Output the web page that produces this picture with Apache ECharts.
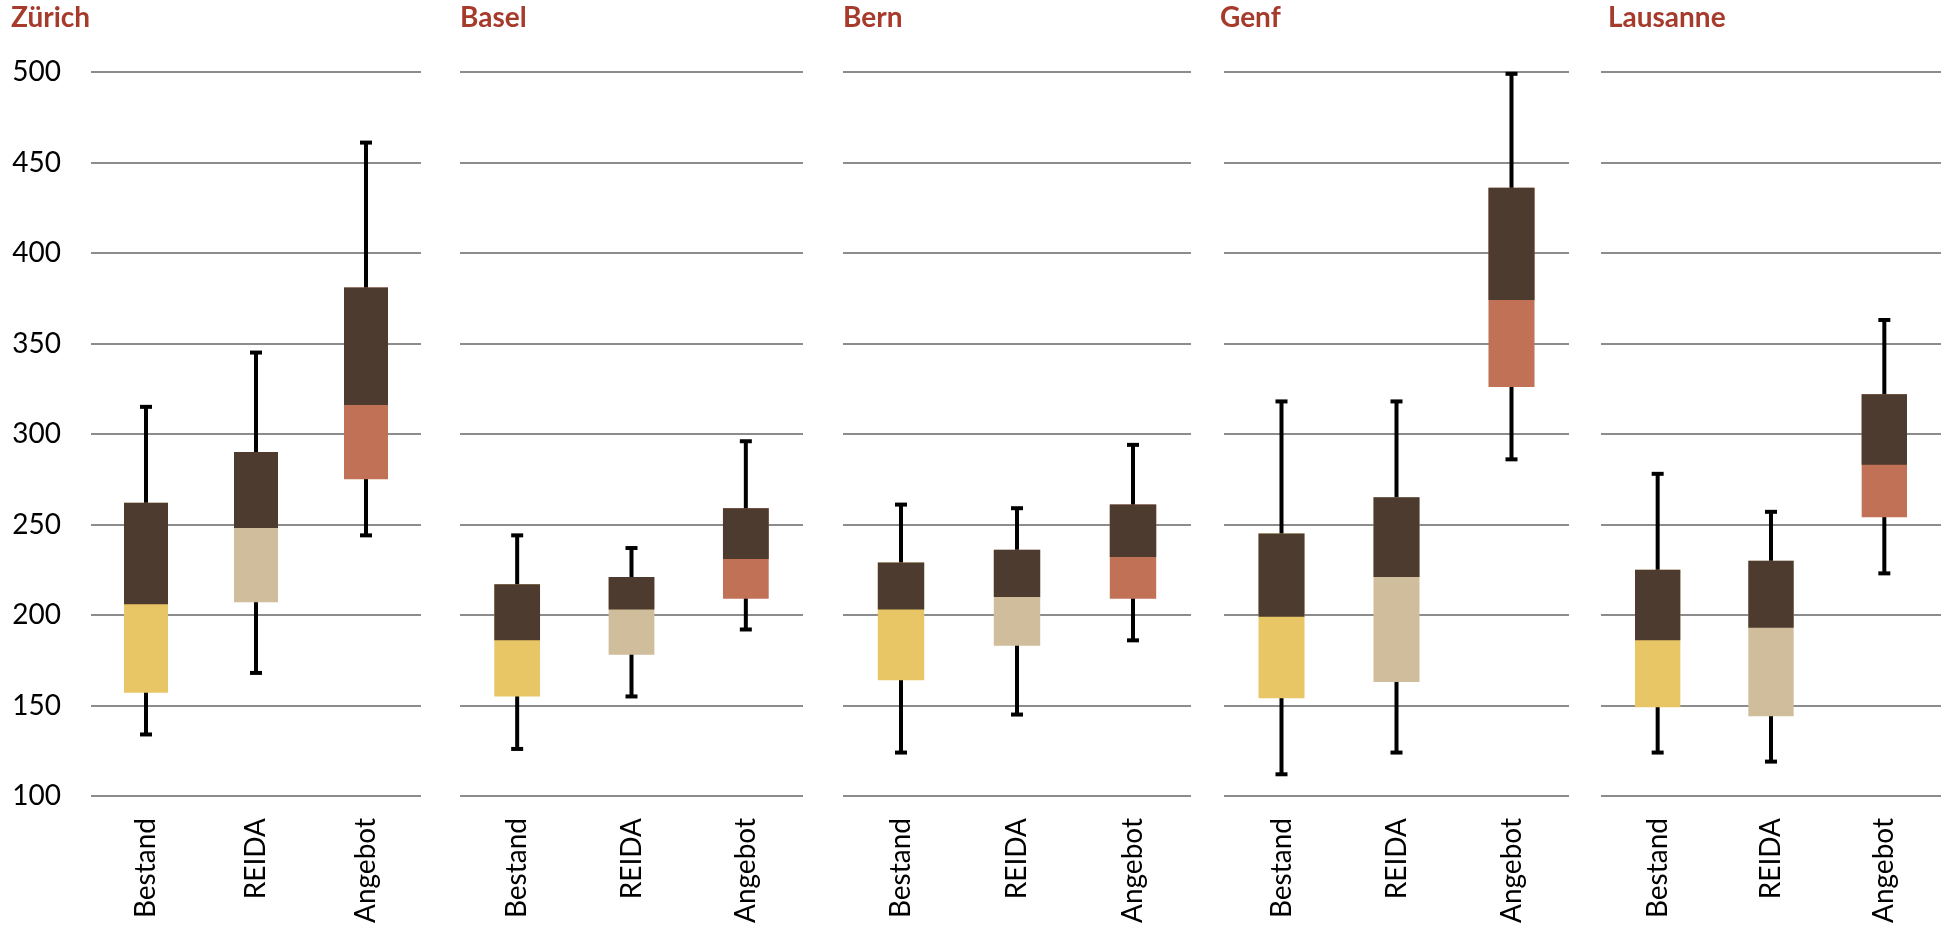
<!DOCTYPE html>
<html>
<head>
<meta charset="utf-8">
<title>Mietpreise nach Stadt</title>
<script src="https://cdn.jsdelivr.net/npm/echarts@6/dist/echarts.min.js"></script>
<style>
  html, body { margin: 0; padding: 0; background: #ffffff; }
  #chart { width: 1952px; height: 930px; }
</style>
</head>
<body>
<div id="chart"></div>
<script>
// Categories shown on every panel
const categories = ['Bestand', 'REIDA', 'Angebot'];
const cities = ['Zürich', 'Basel', 'Bern', 'Genf', 'Lausanne'];

// Value axis range and step
const yMin = 100;
const yMax = 500;
const yStep = 50;

// Per city: one row per category -> [whisker low, box low, median, box high, whisker high]
const zuerich  = [[134, 157, 206, 262, 315], [168, 207, 248, 290, 345], [244, 275, 316, 381, 461]];
const basel    = [[126, 155, 186, 217, 244], [155, 178, 203, 221, 237], [192, 209, 231, 259, 296]];
const bern     = [[124, 164, 203, 229, 261], [145, 183, 210, 236, 259], [186, 209, 232, 261, 294]];
const genf     = [[112, 154, 199, 245, 318], [124, 163, 221, 265, 318], [286, 326, 374, 436, 499]];
const lausanne = [[124, 149, 186, 225, 278], [119, 144, 193, 230, 257], [223, 254, 283, 322, 363]];

const cityData = [zuerich, basel, bern, genf, lausanne];

// Colours
const lowerColors = ['#E8C666', '#CFBD9B', '#C07156'];
const upperColor = '#4E3B2F';
const titleColor = '#A63A2B';
const gridColor = '#8C8C8C';
const fontFamily = 'Lato, "Open Sans", sans-serif';

// Panel placement (pixels)
const panels = [
  { left: 91,   width: 330, titleLeft: 11 },
  { left: 460,  width: 343, titleLeft: 460 },
  { left: 843,  width: 348, titleLeft: 843 },
  { left: 1224, width: 345, titleLeft: 1220 },
  { left: 1601, width: 340, titleLeft: 1608 }
];
const plotTop = 72;
const plotHeight = 724;

function renderBox(params, api) {
  const cat = api.value(0);
  const pLow = api.coord([cat, api.value(1)]);
  const pQ1 = api.coord([cat, api.value(2)]);
  const pMed = api.coord([cat, api.value(3)]);
  const pQ3 = api.coord([cat, api.value(4)]);
  const pHigh = api.coord([cat, api.value(5)]);
  const band = api.size([1, 0])[0];
  const bw = band * 0.4;
  const cap = 12;
  const cx = pLow[0];
  const whisker = { stroke: '#000000', lineWidth: 4, lineCap: 'butt' };
  return {
    type: 'group',
    children: [
      { type: 'line', shape: { x1: cx, y1: pHigh[1], x2: cx, y2: pLow[1] }, style: whisker },
      { type: 'line', shape: { x1: cx - cap / 2, y1: pHigh[1], x2: cx + cap / 2, y2: pHigh[1] }, style: whisker },
      { type: 'line', shape: { x1: cx - cap / 2, y1: pLow[1], x2: cx + cap / 2, y2: pLow[1] }, style: whisker },
      // lower part spans the whole box; the upper part is laid over it from the median up
      { type: 'rect', shape: { x: cx - bw / 2, y: pQ3[1], width: bw, height: pQ1[1] - pQ3[1] },
        style: { fill: lowerColors[cat] } },
      { type: 'rect', shape: { x: cx - bw / 2, y: pQ3[1], width: bw, height: pMed[1] - pQ3[1] },
        style: { fill: upperColor } }
    ]
  };
}

const grids = [], xAxes = [], yAxes = [], series = [], titles = [];

cities.forEach(function (city, i) {
  const p = panels[i];
  grids.push({ left: p.left, top: plotTop, width: p.width, height: plotHeight, containLabel: false });
  titles.push({
    text: city, left: p.titleLeft, top: 4, padding: 0,
    textStyle: { fontFamily: fontFamily, fontWeight: 'bold', fontSize: 28, color: titleColor }
  });
  xAxes.push({
    type: 'category', gridIndex: i, data: categories,
    axisLine: { show: false }, axisTick: { show: false },
    axisLabel: { rotate: 90, margin: 22, fontFamily: fontFamily, fontSize: 28, color: '#000000' }
  });
  yAxes.push({
    type: 'value', gridIndex: i, min: yMin, max: yMax, interval: yStep,
    axisLine: { show: false }, axisTick: { show: false },
    axisLabel: { show: i === 0, margin: 30, fontFamily: fontFamily, fontSize: 28, color: '#000000' },
    splitLine: { show: true, lineStyle: { color: gridColor, width: 2 } }
  });
  series.push({
    type: 'custom', xAxisIndex: i, yAxisIndex: i,
    renderItem: renderBox,
    encode: { x: 0, y: [1, 2, 3, 4, 5] },
    data: cityData[i].map(function (row, c) { return [c].concat(row); }),
    silent: true
  });
});

const chart = echarts.init(document.getElementById('chart'), null, { renderer: 'canvas' });
chart.setOption({
  animation: false,
  backgroundColor: '#ffffff',
  title: titles,
  grid: grids,
  xAxis: xAxes,
  yAxis: yAxes,
  series: series
});
</script>
</body>
</html>
